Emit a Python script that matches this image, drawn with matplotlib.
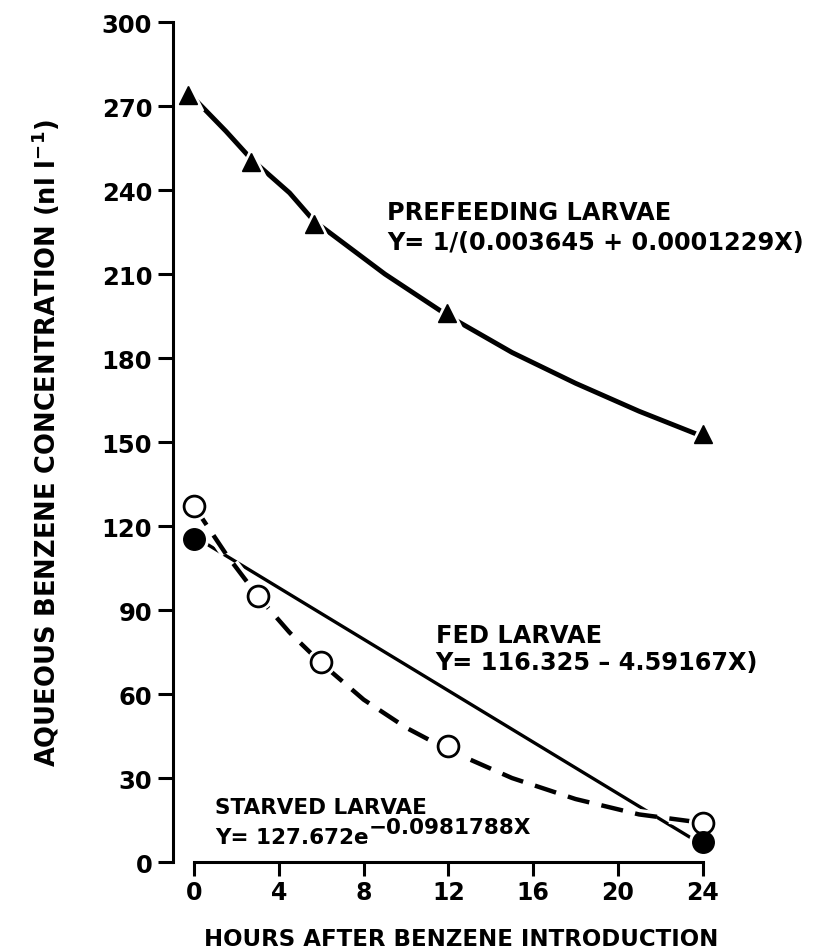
import matplotlib
matplotlib.use("Agg")
import matplotlib.pyplot as plt
import matplotlib.patheffects as pe

# ---------------- data ----------------
# Prefeeding larvae: measured points (triangles)
pref_x = [-0.3, 2.7, 5.65, 11.95, 24]
pref_y = [274, 250, 228, 196, 153]
# Prefeeding fitted curve
pref_curve_x = [-0.3, 1.5, 2.7, 4.5, 5.65, 9, 12, 15, 18, 21, 24]
pref_curve_y = [275, 261, 251, 239, 229, 210, 195, 182, 171, 161, 152]

# Starved larvae: measured points (open circles)
starv_x = [0, 3, 6, 12, 24]
starv_y = [127, 95, 71.5, 41.5, 14]
# Starved fitted curve
starv_curve_x = [0, 1.5, 3, 4.5, 6, 8, 10, 12, 15, 18, 21, 24]
starv_curve_y = [127, 110, 95, 82, 71, 58, 48, 40, 30, 22.5, 17, 14]

# Fed larvae: measured points (filled circles) and fitted straight line
fed_x = [0, 24]
fed_y = [115.5, 7]
fed_line_x = [0, 24]
fed_line_y = [116.3, 6.1]

y_ticks = [0, 30, 60, 90, 120, 150, 180, 210, 240, 270, 300]
x_ticks = [0, 4, 8, 12, 16, 20, 24]

# ---------------- figure ----------------
plt.rcParams['font.family'] = ['DejaVu Sans']
plt.rcParams['font.weight'] = 'bold'

fig = plt.figure(figsize=(8.33, 9.53), dpi=100)
ax = fig.add_axes([0.2077, 0.0944, 0.6867, 0.8814])
ax.set_xlim(-1.0, 26.0)
ax.set_ylim(0, 300)

K = 'black'

# prefeeding curve
ax.plot(pref_curve_x, pref_curve_y, color=K, lw=3.5, solid_capstyle='butt',
        zorder=2, clip_on=False)
ax.plot(pref_x, pref_y, ls='none', marker='^', ms=21, mfc='white', mec='white',
        zorder=3, clip_on=False)
ax.plot(pref_x, pref_y, ls='none', marker='^', ms=13, mfc=K, mec=K,
        zorder=4, clip_on=False)

# fed line (solid)
ax.plot(fed_line_x, fed_line_y, color=K, lw=2.4, zorder=2, clip_on=False)

# starved curve (dashed, with white outline to break crossing)
ax.plot(starv_curve_x, starv_curve_y, color=K, lw=3.2, dashes=(5.0, 2.8),
        solid_capstyle='butt', dash_capstyle='butt', zorder=2.2, clip_on=False,
        path_effects=[pe.Stroke(linewidth=8, foreground='white'), pe.Normal()])

# halos for circles
ax.plot(starv_x, starv_y, ls='none', marker='o', ms=20, mfc='white', mec='white',
        zorder=3, clip_on=False)
ax.plot(fed_x, fed_y, ls='none', marker='o', ms=20, mfc='white', mec='white',
        zorder=3, clip_on=False)
ax.plot(starv_x, starv_y, ls='none', marker='o', ms=15, mfc='white', mec=K, mew=2.0,
        zorder=4, clip_on=False)
ax.plot(fed_x, fed_y, ls='none', marker='o', ms=15.5, mfc=K, mec=K,
        zorder=4, clip_on=False)

# spines / ticks
for s in ['top', 'right']:
    ax.spines[s].set_visible(False)
ax.spines['left'].set_bounds(0, 300)
ax.spines['bottom'].set_bounds(0, 24)
for s in ['left', 'bottom']:
    ax.spines[s].set_linewidth(2.2)
    ax.spines[s].set_zorder(6)
ax.set_yticks(y_ticks)
ax.set_xticks(x_ticks)
ax.tick_params(axis='y', direction='out', length=11, width=2.2, pad=4,
               labelsize=17.5)
ax.tick_params(axis='x', direction='out', length=10, width=2.2, pad=3,
               labelsize=17)
for lab in ax.get_xticklabels() + ax.get_yticklabels():
    lab.set_fontweight('bold')

ax.set_ylabel(r"AQUEOUS BENZENE CONCENTRATION (nl l$^{\mathregular{-1}}$)",
              fontsize=18.5, fontweight='bold')
ax.yaxis.set_label_coords(-0.194, 0.50)
ax.set_xlabel("HOURS AFTER BENZENE INTRODUCTION", fontsize=16.5,
              fontweight='bold')
ax.xaxis.label.set_va('baseline')
ax.xaxis.set_label_coords(0.503, -0.0985)

tkw = dict(fontsize=17.3, fontweight='bold', ha='left', va='center')
ax.text(9.1, 232, "PREFEEDING LARVAE", **tkw)
ax.text(9.1, 221.5, "Y= 1/(0.003645 + 0.0001229X)", **tkw)
ax.text(11.4, 81, "FED LARVAE", **tkw)
ax.text(11.4, 71.4, "Y= 116.325 \u2013 4.59167X)", **tkw)
skw = dict(fontsize=15.5, fontweight='bold', ha='left', va='center')
ax.text(1.0, 19.6, "STARVED LARVAE", **skw)
t = ax.text(1.0, 9.0, "Y= 127.672e", **skw)
ax.annotate("\u22120.0981788X", xy=(1.0, 0.5), xycoords=t, ha='left',
            va='bottom', fontsize=15.5, fontweight='bold')

fig.savefig("out.png", dpi=100)
